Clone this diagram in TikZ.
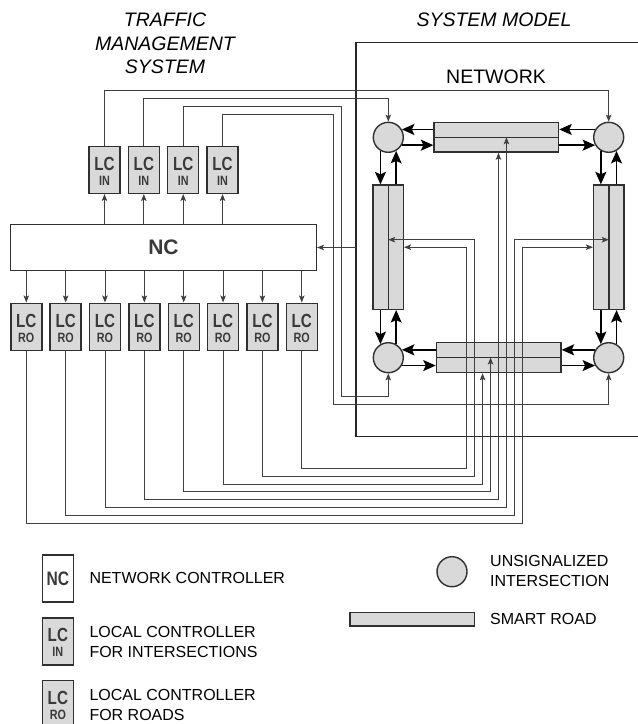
\documentclass[tikz,border=0pt]{standalone}
\usepackage{fontspec}
\setmainfont{Liberation Sans}
\newfontfamily\lcfont{Liberation Sans}[FakeStretch=0.8]
\usetikzlibrary{arrows.meta,calc}
\definecolor{roadfill}{HTML}{D9D9D9}
\definecolor{edgegray}{HTML}{303030}
\definecolor{lctext}{HTML}{3A3A3A}
\definecolor{wiregray}{HTML}{404040}

\begin{document}
\begin{tikzpicture}[x=1pt,y=-1pt,
    boxln/.style={draw=edgegray,line width=1.4pt},
    lcbox/.style={boxln,fill=roadfill,minimum width=31pt,minimum height=47pt,inner sep=0pt},
    lcbig/.style={anchor=base,inner sep=0pt,text=lctext,font=\lcfont\bfseries\fontsize{19}{19}\selectfont},
    lcsmall/.style={anchor=base,inner sep=0pt,text=lctext,font=\lcfont\bfseries\fontsize{13.5}{13.5}\selectfont},
    inter/.style={boxln,circle,fill=roadfill,minimum size=30pt,inner sep=0pt},
    road/.style={boxln,fill=roadfill,inner sep=0pt},
    flow/.style={line width=1.5pt,draw=black,-{Stealth[length=12.5pt,width=11pt,inset=2.5pt]}},
    ctrl/.style={line width=0.9pt,draw=wiregray,-{Stealth[length=7pt,width=5.5pt,inset=1.5pt]}},
    title/.style={font=\itshape\fontsize{19.5}{23.5}\selectfont,align=center},
    legtext/.style={anchor=west,align=left,font=\fontsize{16}{20}\selectfont,inner sep=0pt}]
    \useasboundingbox (0,0) rectangle (638,724);
    \clip (0,0) rectangle (638,724);

    % titles
    \node[title] (tmstitle) at (165,43.5) {TRAFFIC\\MANAGEMENT\\SYSTEM};
    \node[title] (smtitle) at (494,19.5) {SYSTEM MODEL};
    \node[font=\fontsize{19.5}{19.5}\selectfont] (nettitle) at (496,77) {NETWORK};

    % system model frame
    \coordinate (sysnw) at (356,42.7);
    \coordinate (syssw) at (356,436.7);
    \draw[line width=1.3pt,draw=black!85] (645,42.7) -- (sysnw) -- (syssw) -- (645,436.7);

    % controllers
    \node[boxln,fill=white,minimum width=305.6pt,minimum height=45.6pt,
        font=\bfseries\fontsize{21}{21}\selectfont,text=lctext] (nc) at (163.5,247.5) {NC};
    \foreach \i in {1,...,4}{
        \node[lcbox] (in\i) at ({104.5+(\i-1)*39.35},169.8) {};
        \node[lcbig] (inA\i) at ($(in\i.center)+(0,0.3)$) {LC};
        \node[lcsmall] (inB\i) at ($(in\i.center)+(0,15.5)$) {IN};
        \draw[ctrl] (nc.north -| in\i.south) -- (in\i.south);
    }
    \foreach \i in {1,...,8}{
        \node[lcbox] (ro\i) at ({26.3+(\i-1)*39.35},326.7) {};
        \node[lcbig] (roA\i) at ($(ro\i.center)+(0,0.3)$) {LC};
        \node[lcsmall] (roB\i) at ($(ro\i.center)+(0,15.5)$) {RO};
        \draw[ctrl] (nc.south -| ro\i.north) -- (ro\i.north);
    }
    \draw[ctrl] (syssw |- nc.east) -- (nc.east);

    % network: intersections and roads
    \node[inter] (tl) at (388.3,137.3) {};
    \node[inter] (tr) at (608.7,137.3) {};
    \node[inter] (bl) at (388.3,357.7) {};
    \node[inter] (br) at (608.7,357.7) {};
    \node[road,minimum width=124.5pt,minimum height=29.6pt] (troad) at (496.3,137.3) {};
    \node[road,minimum width=124.5pt,minimum height=30.2pt] (broad) at (498.7,357.5) {};
    \node[road,minimum width=30.3pt,minimum height=124.3pt] (lroad) at (388.2,247.2) {};
    \node[road,minimum width=30.3pt,minimum height=124.3pt] (rroad) at (608.8,247.2) {};
    \draw[boxln] (troad.west) -- (troad.east);
    \draw[boxln] (broad.west) -- (broad.east);
    \draw[boxln] (lroad.north) -- (lroad.south);
    \draw[boxln] (rroad.north) -- (rroad.south);

    % traffic flow
    \draw[flow] (troad.west |- tl.30) -- (tl.30);
    \draw[flow] (tl.-30) -- (troad.west |- tl.-30);
    \draw[flow] (tr.150) -- (troad.east |- tr.150);
    \draw[flow] (troad.east |- tr.210) -- (tr.210);
    \draw[flow] (broad.west |- bl.30) -- (bl.30);
    \draw[flow] (bl.-30) -- (broad.west |- bl.-30);
    \draw[flow] (br.150) -- (broad.east |- br.150);
    \draw[flow] (broad.east |- br.210) -- (br.210);
    \draw[flow] (tl.240) -- (tl.240 |- lroad.north);
    \draw[flow] (tl.300 |- lroad.north) -- (tl.300);
    \draw[flow] (bl.120 |- lroad.south) -- (bl.120);
    \draw[flow] (bl.60) -- (bl.60 |- lroad.south);
    \draw[flow] (tr.240) -- (tr.240 |- rroad.north);
    \draw[flow] (tr.300 |- rroad.north) -- (tr.300);
    \draw[flow] (br.120 |- rroad.south) -- (br.120);
    \draw[flow] (br.60) -- (br.60 |- rroad.south);

    % control lines to intersections
    \coordinate (h1) at (0,90);
    \coordinate (h2) at (0,98.3);
    \coordinate (h3) at (341,106.7);
    \coordinate (h4) at (333.3,114.5);
    \coordinate (d3) at (341,396.7);
    \coordinate (d4) at (333.3,404.3);
    \draw[ctrl] (in1.north) -- (in1.north |- h1) -| (tr.north);
    \draw[ctrl] (in2.north) -- (in2.north |- h2) -| (tl.north);
    \draw[ctrl] (in3.north) |- (h3) -- (d3) -| (bl.south);
    \draw[ctrl] (in4.north) |- (h4) -- (d4) -| (br.south);

    % control lines to roads
    \foreach \i in {1,...,8}
        \coordinate (k\i) at ({522.3-(\i-1)*7.94},{523.3-(\i-1)*7.86});
    \draw[ctrl] (ro1.south) |- (k1) |- (rroad.west);
    \draw[ctrl] (ro2.south) |- (k2) |- ($(rroad.center)+(0,-7.5)$);
    \draw[ctrl] (ro3.south) |- (k3) -- (k3 |- troad.center);
    \draw[ctrl] (ro4.south) |- (k4) -- (k4 |- troad.south);
    \draw[ctrl] (ro5.south) |- (k5) -- (k5 |- broad.center);
    \draw[ctrl] (ro6.south) |- (k6) -- (k6 |- broad.south);
    \draw[ctrl] (ro7.south) |- (k7) |- ($(lroad.center)+(0,-7.5)$);
    \draw[ctrl] (ro8.south) |- (k8) |- (lroad.east);

    % legend
    \node[boxln,fill=white,minimum width=31pt,minimum height=47pt,inner sep=0pt,
        font=\lcfont\bfseries\fontsize{19.5}{19.5}\selectfont,text=lctext] (lgnc) at (57.85,578.3) {NC};
    \node[lcbox] (lgin) at (57.85,641.3) {};
    \node[lcbig] (lginA) at ($(lgin.center)+(0,0.3)$) {LC};
    \node[lcsmall] (lginB) at ($(lgin.center)+(0,15.5)$) {IN};
    \node[lcbox] (lgro) at (57.85,704.2) {};
    \node[lcbig] (lgroA) at ($(lgro.center)+(0,0.3)$) {LC};
    \node[lcsmall] (lgroB) at ($(lgro.center)+(0,15.5)$) {RO};
    \node[inter] (lgint) at (452,571.7) {};
    \node[road,minimum width=124.3pt,minimum height=13.6pt] (lgroad) at (412.2,619.2) {};
    \node[legtext] (lgnctxt) at (89.3,578.3) {NETWORK CONTROLLER};
    \node[legtext] (lgintxt) at (89.3,642.3) {LOCAL CONTROLLER\\FOR INTERSECTIONS};
    \node[legtext] (lgrotxt) at (89.3,705.4) {LOCAL CONTROLLER\\FOR ROADS};
    \node[legtext] (lgcirtxt) at (490,571) {UNSIGNALIZED\\INTERSECTION};
    \node[legtext] (lgrdtxt) at (490,619) {SMART ROAD};
\end{tikzpicture}
\end{document}
